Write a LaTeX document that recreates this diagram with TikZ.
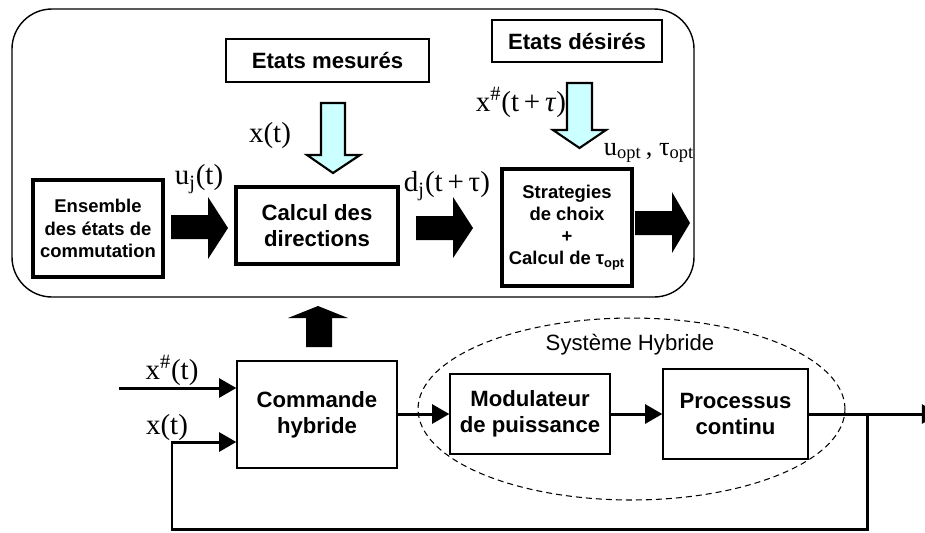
\documentclass[tikz,border=0pt]{standalone}
\usepackage{fontspec}
\setmainfont{Liberation Sans}
\newfontfamily\tms{Liberation Serif}
\usetikzlibrary{arrows}
\usetikzlibrary{shapes.geometric}
\definecolor{cyanclair}{RGB}{204,255,255}

\begin{document}
\begin{tikzpicture}[x=0.02cm, y=-0.02cm, >=triangle 60,
  boite/.style={draw, line width=0.9pt, inner sep=0pt, align=center, font=\bfseries\fontsize{12.6}{15}\selectfont},
  boite epaisse/.style={boite, line width=1.9pt},
  petit/.style={font=\bfseries\fontsize{10.5}{12.6}\selectfont},
  etiquette/.style={inner sep=0pt, font=\tms\fontsize{16.5}{18}\selectfont},
  fleche pleine/.style={fill=black},
  fleche claire/.style={fill=cyanclair, draw, line width=1.2pt, line join=miter},
  liaison/.style={->, line width=1.7pt}]
\useasboundingbox (0,0) rectangle (925,532);
\begin{scope}
  \draw [line width=0.8pt, rounded corners=0.8cm] (12,9) rectangle (694,297);
  \node [boite, minimum width=4.06cm, minimum height=0.86cm, name=mesures] at (327.5,60.5) {Etats mesur\'es};
  \node [boite, minimum width=3.4cm, minimum height=0.84cm, name=desires] at (577,41) {Etats d\'esir\'es};
  \node [boite epaisse, petit, minimum width=2.6cm, minimum height=1.94cm, name=ensemble] at (98,228.5) {Ensemble\\des \'etats de\\commutation};
  \node [boite epaisse, minimum width=3.24cm, minimum height=1.54cm, name=calcul] at (317,225.5) {Calcul des\\directions};
  \node [boite epaisse, petit, minimum width=2.6cm, minimum height=2.34cm, name=strategie] at (567,227.5) {Strategies\\de choix\\+\\Calcul de τ\textsubscript{opt}};
  \fill [fleche pleine] (171,215) -- (208,215) -- (208,197) -- (228,228) -- (208,259) -- (208,239) -- (171,239) -- cycle;
  \fill [fleche pleine] (416,216) -- (453,216) -- (453,197) -- (473,228) -- (453,258) -- (453,240) -- (416,240) -- cycle;
  \fill [fleche pleine] (635,211) -- (672,211) -- (672,192) -- (690,223) -- (672,253) -- (672,235) -- (635,235) -- cycle;
  \draw [fleche claire] (321,103) -- (345,103) -- (345,155) -- (360,155) -- (333,173) -- (307,155) -- (321,155) -- cycle;
  \draw [fleche claire] (567,83) -- (592,83) -- (592,130) -- (606,130) -- (579.5,148) -- (553,130) -- (567,130) -- cycle;
  \node [etiquette, name=xt] at (270,136) {x(t)};
  \node [etiquette, name=uj] at (199,179) {u\textsubscript{j}(t)};
  \node [etiquette, name=dj] at (447,186) {d\textsubscript{j}(t\,+\,τ)};
  \node [etiquette, name=xdiese] at (521,102) {x\textsuperscript{\#}(t\,+\,\textit{τ})};
  \node [etiquette, font=\tms\fontsize{15}{17}\selectfont, name=uopt] at (649,153) {u\textsubscript{opt}\,, τ\textsubscript{opt}};
\end{scope}
\fill [fleche pleine] (306,347) -- (306,318) -- (288,318) -- (318,306) -- (348,318) -- (332,318) -- (332,347) -- cycle;
\begin{scope}
  \node [ellipse, draw, dashed, line width=0.6pt, dash pattern=on 3.4pt off 2.3pt, minimum width=8.54cm, minimum height=3.64cm, name=systeme] at (631.5,409) {};
  \node [font=\fontsize{12.6}{15}\selectfont, name=titre] at (630,345) {Syst\`eme Hybride};
  \node [boite, minimum width=3.2cm, minimum height=2.14cm, name=commande] at (317,414.5) {Commande\\hybride};
  \node [boite, minimum width=3.2cm, minimum height=1.6cm, name=modulateur] at (530,414) {Modulateur\\de puissance};
  \node [boite, minimum width=2.9cm, minimum height=1.8cm, name=processus] at (735.5,414) {Processus\\continu};
  \coordinate (entree) at (119,388);
  \coordinate (retour) at (172,442);
  \coordinate (bas) at (172,529);
  \coordinate (branche) at (867,414);
  \coordinate (sortie) at (939,414);
  \draw [liaison] (entree) -- (entree -| commande.west);
  \draw [liaison] (commande.east |- modulateur.west) -- (modulateur.west);
  \draw [liaison] (modulateur.east) -- (processus.west);
  \draw [liaison] (processus.east) -- (sortie);
  \draw [liaison] (branche) |- (bas) -- (retour) -- (retour -| commande.west);
  \node [etiquette, name=xdt] at (172,370) {x\textsuperscript{\#}(t)};
  \node [etiquette, name=xtb] at (167,428) {x(t)};
\end{scope}
\end{tikzpicture}
\end{document}
